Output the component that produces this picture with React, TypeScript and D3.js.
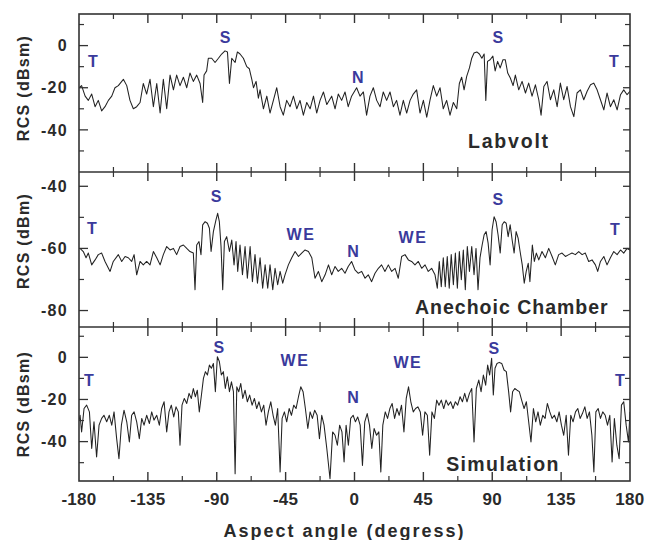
import React from "react";
import * as d3 from "d3";

// aspect angle (deg) vs RCS
const labvolt: [number, number][] = [
  [-180, -20], [-178.3, -19], [-176, -24], [-173.9, -26], [-171.7, -23], [-169.5, -29], [-167.4, -26], [-165.2, -31],
  [-163, -29], [-160.8, -26], [-158.6, -24], [-156.5, -20], [-154.3, -19], [-151, -16], [-148.8, -19], [-146.7, -26],
  [-144.5, -30], [-142.3, -29], [-140.1, -27], [-138, -18], [-135.8, -23], [-133.6, -16], [-131.4, -29], [-129.2, -18],
  [-127, -32], [-124.9, -16], [-122.7, -30], [-120.5, -14], [-118.3, -21], [-116.2, -14], [-114, -19], [-111.8, -15],
  [-109.6, -20], [-107.5, -13], [-105.3, -17], [-103.1, -14], [-100.9, -18], [-99.2, -27], [-98.3, -14], [-96.6, -12],
  [-95.5, -6], [-93.3, -6], [-91.1, -8], [-88.9, -6], [-86.8, -4], [-84.6, -2.5], [-83, -3], [-81.7, -18],
  [-80.2, -6], [-78, -8], [-76.5, -3], [-74.8, -4], [-72.6, -6], [-70.4, -10], [-68.7, -11], [-67.1, -16],
  [-66, -20], [-64.3, -17], [-62.8, -25], [-61.7, -21], [-59.5, -30], [-57.3, -24], [-55.2, -32], [-53, -26],
  [-50.8, -20], [-48.6, -29], [-46.5, -33], [-44.3, -26], [-42.1, -29], [-39.9, -24], [-37.7, -30], [-35.6, -26],
  [-33.4, -33], [-31.2, -27], [-29, -30], [-26.8, -24], [-24.7, -32], [-22.5, -26], [-20.3, -22], [-18.1, -28],
  [-14.9, -24], [-12.7, -30], [-10.6, -23], [-8.4, -26], [-6.2, -22], [-4.1, -29], [-1.9, -24], [1.4, -20],
  [3.6, -24], [5.8, -22], [7.9, -33], [10.1, -24], [12.3, -20], [14.5, -26], [16.7, -29], [18.8, -22],
  [21, -26], [23.2, -22], [25.4, -29], [27.5, -26], [29.7, -33], [31.9, -26], [34.1, -32], [36.3, -26],
  [38.4, -23], [40.6, -21], [42.8, -32], [45, -26], [47.2, -34], [49.3, -26], [51.5, -19], [53.7, -24],
  [55.9, -20], [58, -30], [60.2, -26], [62.4, -33], [64.6, -27], [66.8, -30], [68.5, -18], [70, -15],
  [71.6, -21], [73.3, -14.6], [75.1, -10.6], [76.6, -6], [78.1, -3.5], [79.9, -3], [81.6, -4], [83.2, -6],
  [84.7, -4], [85.8, -26], [86.9, -7.5], [88.6, -6.7], [90.4, -5], [91.9, -12], [93.5, -7.5], [95.2, -10.6],
  [97, -6.7], [98.5, -6.7], [100.1, -13], [101.8, -15.4], [103.6, -19], [105.1, -14], [107.3, -21], [109.5, -17],
  [111.7, -22.5], [113.8, -17.8], [116, -24], [118.2, -18.6], [120.4, -25.7], [121.9, -33], [123.7, -19.4], [125.8, -17],
  [128, -25.7], [130.2, -21], [132.4, -29], [134.5, -17.8], [136.7, -25.7], [138.9, -19.4], [141.1, -29], [143.3, -33.7],
  [145.4, -22.5], [147.6, -21], [149.8, -25.7], [152, -21.7], [154.2, -18.6], [156.3, -17.8], [158.5, -21], [160.7, -25.7],
  [162.9, -30.5], [165, -22.5], [167.2, -29], [169.4, -25.7], [171.6, -30.5], [173.8, -23.3], [175.9, -21], [178.1, -23.3],
  [180, -21.7],
];

const anechoic: [number, number][] = [
  [-180, -60], [-179.3, -60], [-177.2, -61], [-175.4, -63], [-173.9, -61.5], [-171.7, -65.3], [-169.5, -63.7], [-167.4, -62],
  [-165.2, -61.5], [-163, -64.2], [-159.7, -67.4], [-157.6, -64.2], [-154.3, -62], [-152.1, -64.2], [-149.9, -62.6], [-147.8, -63],
  [-145.6, -64.2], [-144, -62], [-142.3, -68.5], [-140.1, -64.2], [-138, -65.3], [-135.8, -64.2], [-133.6, -65.3], [-131.4, -61],
  [-129.2, -63], [-127, -65.3], [-124.9, -62], [-122.7, -59.4], [-120.5, -60.5], [-118.3, -60], [-116.2, -62], [-114, -59.4],
  [-111.8, -58.9], [-109.6, -60], [-107.5, -61], [-105.3, -61.5], [-104.2, -73.3], [-103.1, -58.9], [-101.6, -57.8], [-100.3, -62],
  [-99.2, -52.4], [-97.6, -51.4], [-96.1, -51.9], [-94.8, -53.5], [-93.7, -61], [-92.2, -54.6], [-90.5, -50.8], [-89.4, -48.7],
  [-88.3, -51.4], [-87.2, -59.4], [-86.1, -73.3], [-85, -57.8], [-83.5, -56.2], [-81.7, -61], [-80.2, -57.3], [-78.7, -65.3],
  [-77.4, -57.8], [-76.3, -67.4], [-74.8, -58.9], [-73.2, -68.5], [-71.5, -59.4], [-70, -69.6], [-68.2, -59.4], [-66.7, -70.7],
  [-65, -62], [-63.4, -71.2], [-61.7, -63], [-60, -72.8], [-58.4, -65.3], [-56.7, -72.8], [-55.2, -65.3], [-53.4, -73.3],
  [-51.9, -66.4], [-50.2, -71.7], [-48.6, -67.4], [-46.9, -71.2], [-45.4, -68.5], [-43.2, -65.3], [-41, -63], [-38.8, -61],
  [-36.6, -62.6], [-34.5, -61.5], [-32.3, -60.5], [-30.1, -61], [-27.9, -63], [-25.8, -69.6], [-23.6, -67.4], [-21.4, -70.7],
  [-19.2, -68.5], [-17, -65.3], [-14.9, -68.5], [-12.7, -65.8], [-10.6, -67.4], [-8.4, -66.4], [-6.2, -68], [-4.1, -65.8],
  [-1.9, -64.2], [0.3, -66.9], [2.5, -68], [4.7, -67.4], [6.9, -69.6], [9, -68.5], [11.2, -70.7], [13.4, -68],
  [15.6, -66.4], [17.7, -65.3], [19.9, -67.4], [22.1, -65.3], [24.3, -67.4], [26.5, -66.4], [28.6, -69.6], [30.8, -62.6],
  [33, -62], [35.2, -63.7], [37.3, -64.2], [39.5, -65.3], [41.7, -64.2], [43.9, -66.4], [46.1, -65.3], [48.2, -67.4],
  [50.4, -66.4], [52.6, -68.5], [54.1, -72.8], [55.4, -64.2], [56.7, -72.3], [58, -63], [59.3, -72.3], [60.6, -62.6],
  [61.9, -72.8], [63.2, -62], [64.6, -71.7], [65.9, -61.5], [67.2, -72.8], [68.5, -61], [69.8, -70.1], [71.1, -60.5],
  [72.4, -73.3], [73.7, -59.4], [75.1, -67.4], [76.6, -59.4], [78.1, -68.5], [79.4, -60], [80.7, -73.3], [82, -63],
  [83.4, -58.9], [84.7, -55.6], [86, -54.6], [87.3, -58.3], [88.6, -65.3], [89.9, -54], [91.2, -49.8], [92.5, -51.4],
  [93.8, -55.6], [95.2, -61.5], [96.5, -52.4], [97.8, -51.4], [99.1, -51.9], [100.4, -56.2], [101.7, -52.4], [103, -57.3],
  [104.3, -61.5], [105.6, -54.6], [106.9, -56.7], [108.2, -61], [109.6, -65.3], [110.9, -71.2], [112.2, -67.4], [113.5, -64.8],
  [114.6, -70.7], [116.2, -58.9], [117.5, -64.2], [118.8, -61.5], [120.4, -63.7], [122.5, -61], [124.7, -63], [126.9, -60],
  [129.1, -62.6], [131.2, -65.3], [133.4, -62], [135.6, -61.5], [137.8, -62.6], [140, -62], [142.1, -61.5], [144.3, -62],
  [146.5, -61], [148.7, -62], [150.8, -61.5], [153, -64.2], [155.2, -63.7], [157.4, -65.3], [158.9, -67.4], [160.7, -64.2],
  [162.9, -62.6], [165, -65.3], [167.2, -63], [169.4, -61], [171.6, -62], [173.8, -60.5], [175.9, -61.5], [178.1, -60],
  [180, -60.5],
];

const simulation: [number, number][] = [
  [-180, -30], [-179.3, -27.5], [-178.3, -35.4], [-176.7, -24.3], [-175, -22.7], [-173.2, -25.9], [-171.7, -43.3], [-170.2, -30.6],
  [-168.5, -47.3], [-166.9, -32.2], [-165.2, -29], [-163.7, -27.5], [-161.9, -30.6], [-160.2, -27.5], [-158.6, -32.2], [-157.1, -25.9],
  [-155.4, -38.6], [-153.9, -48.1], [-152.3, -32.2], [-150.6, -25.1], [-148.8, -30.6], [-147.1, -40.2], [-145.6, -27.5], [-144, -25.9],
  [-142.3, -30.6], [-140.6, -38.6], [-139, -29], [-137.5, -32.2], [-135.8, -27.5], [-134, -31.4], [-132.5, -25.9], [-131, -29.8],
  [-129.2, -27.5], [-127.5, -32.2], [-126, -24.3], [-124.4, -21.1], [-122.7, -35.4], [-121.2, -25.9], [-119.7, -22.7], [-118.1, -28.3],
  [-116.6, -23.5], [-115.1, -25.9], [-114, -41.7], [-112.7, -22.7], [-111.2, -19.5], [-109.6, -21.9], [-108.1, -17.1], [-106.6, -19.5],
  [-105.3, -14.8], [-104, -18.7], [-102.7, -15.6], [-101.4, -25.9], [-100, -17.9], [-98.7, -10], [-97.4, -6.8], [-96.1, -8.4],
  [-94.8, -3.7], [-93.5, -5.2], [-92.2, -2.9], [-90.9, -16.3], [-89.6, 0.3], [-88.3, -2], [-87, -8.4], [-85.7, -6.8],
  [-84.4, -14.8], [-83.1, -9.2], [-81.7, -16.3], [-80.4, -11.6], [-79.1, -16.3], [-78, -55.2], [-76.9, -14], [-75.6, -16.3],
  [-74.3, -12.4], [-73, -19.5], [-71.5, -15.6], [-70, -21.1], [-68.5, -17.9], [-66.9, -22.7], [-65.4, -19.5], [-63.9, -24.3],
  [-62.4, -21.1], [-60.8, -25.9], [-59.3, -22.7], [-57.8, -32.2], [-56.3, -25.9], [-54.7, -21.1], [-53.2, -27.5], [-51.7, -32.2],
  [-50.2, -24.3], [-48.6, -54.4], [-47.3, -29], [-45.8, -25.9], [-44.3, -30.6], [-42.7, -24.3], [-41.2, -27.5], [-39.7, -22.7],
  [-38.2, -24.3], [-36.6, -18.7], [-35.1, -14], [-33.6, -16.3], [-32.1, -24.3], [-30.5, -33.8], [-29, -25.9], [-27.5, -29],
  [-26, -25.1], [-24.4, -27.5], [-22.9, -38.6], [-21.4, -27.5], [-19.9, -32.2], [-18.1, -43.3], [-16, -57.6], [-14.3, -35.4],
  [-12.7, -37], [-11.2, -41.7], [-9.7, -32.2], [-8.2, -35.4], [-6.8, -49.7], [-5.5, -32.2], [-4, -41.7], [-2.5, -29],
  [-0.9, -27.5], [0.6, -30.6], [2.1, -28.3], [3.7, -32.2], [5.2, -51.3], [6.7, -30.6], [8.3, -26.7], [9.8, -32.2],
  [11.3, -43.3], [12.8, -33.8], [14.4, -37], [15.9, -35.4], [17.2, -54.4], [18.5, -32.2], [20.1, -25.9], [21.6, -29],
  [23.1, -24.3], [24.6, -21.9], [26.2, -29], [27.7, -24.3], [29.2, -27.5], [30.7, -22.7], [32.3, -35.4], [33.8, -19.5],
  [35.3, -14], [36.8, -21.1], [38.4, -25.9], [39.9, -24.3], [41.4, -23.5], [43, -25.9], [44.5, -37], [46, -25.9],
  [47.6, -27.5], [49.1, -46.5], [50.6, -25.9], [52.2, -29], [53.7, -20.3], [55.2, -22.7], [56.7, -20.3], [58.3, -24.3],
  [59.8, -20.3], [61.3, -22.7], [62.8, -21.1], [64.4, -24.3], [65.9, -21.1], [67.4, -22.7], [69, -18.7], [70.5, -21.1],
  [72, -17.1], [73.5, -21.1], [75.1, -17.1], [76.6, -14.8], [78.1, -40.2], [79.6, -14.8], [81.2, -10.8], [82.7, -16.3],
  [84.2, -8.4], [85.7, -13.2], [87, -3.7], [88.3, -8.4], [89.6, -0.5], [90.7, -17.9], [91.8, -5.2], [93.1, -2.9],
  [94.6, -2.4], [96.2, -2.9], [97.7, -6], [99.2, -6.8], [100.7, -16.3], [102, -25.9], [103.3, -16.3], [104.7, -14.8],
  [106.2, -15.6], [107.7, -16.3], [109.2, -20.3], [110.8, -24.3], [112.3, -21.1], [113.8, -30.6], [115.3, -40.2], [116.9, -24.3],
  [118.4, -30.6], [119.9, -25.9], [121.4, -32.2], [123, -27.5], [124.5, -29], [126, -21.9], [127.6, -25.9], [129.1, -29],
  [130.6, -27.5], [132.2, -30.6], [133.7, -25.9], [135.2, -32.2], [136.7, -37], [138.3, -27.5], [139.8, -46.5], [141.3, -27.5],
  [142.8, -30.6], [144.4, -25.9], [145.9, -24.3], [147.4, -29], [148.9, -26.7], [150.5, -23.5], [152, -29], [153.5, -25.9],
  [155.1, -37], [156.4, -54.4], [157.7, -25.9], [159.2, -24.3], [160.7, -29], [162.2, -25.9], [163.8, -27.5], [165.3, -32.2],
  [166.8, -27.5], [168.3, -49.7], [169.8, -29], [171.4, -41.7], [172.9, -48.1], [174.4, -22.7], [175.9, -21.1], [177.5, -32.2],
  [179, -40.2], [180, -25.9],
];

const angleTicks = [-180, -135, -90, -45, 0, 45, 90, 135, 180];
const angleMinor = [-157.5, -112.5, -67.5, -22.5, 22.5, 67.5, 112.5, 157.5];

const panels = [
  {
    key: "labvolt", data: labvolt, domain: [-60, 15], top: 14, bottom: 172,
    yTicks: [0, -20, -40], yMinor: [10, -10, -30, -50],
    yTitle: "RCS (dBsm)", yTitleY: 88, title: "Labvolt", titleAt: [100.9, -45.2], titleSpacing: 1.8,
    notes: [["T", -170.9, -7.6], ["S", -84.6, 3.8], ["N", 2.2, -14.8], ["S", 93.7, 3.8], ["T", 169.4, -7.6]],
  },
  {
    key: "anechoic", data: anechoic, domain: [-85.3, -35.4], top: 172, bottom: 327,
    yTicks: [-40, -60, -80], yMinor: [-50, -70],
    yTitle: "RCS (dBm)", yTitleY: 241, title: "Anechoic Chamber", titleAt: [102.8, -78.9], titleSpacing: 1,
    notes: [["T", -171.5, -53.5], ["S", -90.5, -43.1], ["WE", -35, -55.4], ["N", -1, -60.9],
      ["WE", 38.2, -56.4], ["S", 93.7, -44.1], ["T", 170.1, -53.8]],
  },
  {
    key: "simulation", data: simulation, domain: [-58.7, 14.4], top: 327, bottom: 481,
    yTicks: [0, -20, -40], yMinor: [10, -10, -30, -50],
    yTitle: "RCS (dBsm)", yTitleY: 404, title: "Simulation", titleAt: [97, -50.8], titleSpacing: 1.4,
    notes: [["T", -173.5, -10.8], ["S", -88.6, 4.9], ["WE", -38.9, -1.3], ["N", -1, -18.9],
      ["WE", 34.9, -2.2], ["S", 91.1, 4.4], ["T", 173.4, -10.8]],
  },
];

const FONT = "'Liberation Sans', Arial, sans-serif";
const INK = "#2a2a2a";
const BLUE = "#3a3a9c";

export default function App() {
  const left = 79, right = 630;
  const x = d3.scaleLinear().domain([-180, 180]).range([left, right]);

  return (
    <svg width={647} height={540} style={{ position: "absolute", left: 0, top: 0, background: "#fff" }}
      fontFamily={FONT} fontWeight="bold">
      <defs>
        {panels.map(p => (
          <clipPath id={"clip-" + p.key} key={p.key}>
            <rect x={left} y={p.top} width={right - left} height={p.bottom - p.top} />
          </clipPath>
        ))}
      </defs>

      {panels.map(p => {
        const y = d3.scaleLinear().domain(p.domain).range([p.bottom, p.top]);
        const line = d3.line<[number, number]>().x(d => x(d[0])).y(d => y(d[1]));
        return (
          <g key={p.key}>
            <path d={line(p.data) || ""} fill="none" stroke="#222" strokeWidth={1.05}
              strokeLinejoin="round" clipPath={`url(#clip-${p.key})`} />

            {/* inward ticks on all four sides */}
            {angleTicks.slice(1, -1).map(a => (
              <g key={"xt" + a} stroke="#333" strokeWidth={1.4}>
                <line x1={x(a)} x2={x(a)} y1={p.top} y2={p.top + 9} />
                <line x1={x(a)} x2={x(a)} y1={p.bottom} y2={p.bottom - 9} />
              </g>
            ))}
            {angleMinor.map(a => (
              <g key={"xm" + a} stroke="#333" strokeWidth={1.2}>
                <line x1={x(a)} x2={x(a)} y1={p.top} y2={p.top + 5} />
                <line x1={x(a)} x2={x(a)} y1={p.bottom} y2={p.bottom - 5} />
              </g>
            ))}
            {p.yTicks.map(v => (
              <g key={"yt" + v}>
                <line x1={left} x2={left + 9} y1={y(v)} y2={y(v)} stroke="#333" strokeWidth={1.3} />
                <line x1={right} x2={right - 7} y1={y(v)} y2={y(v)} stroke="#333" strokeWidth={1.3} />
                <text x={68} y={y(v)} dy="0.36em" textAnchor="end" fontSize={16} letterSpacing={1.3} fill={INK}>{v}</text>
              </g>
            ))}
            {p.yMinor.map(v => (
              <g key={"ym" + v} stroke="#333" strokeWidth={1.2}>
                <line x1={left} x2={left + 5} y1={y(v)} y2={y(v)} />
                <line x1={right} x2={right - 5} y1={y(v)} y2={y(v)} />
              </g>
            ))}

            <text transform={`translate(23,${p.yTitleY}) rotate(-90)`} textAnchor="middle" dy="0.36em"
              fontSize={16} letterSpacing={1.3} fill={INK}>{p.yTitle}</text>

            {p.notes.map(([t, a, v], i) => (
              <text key={"n" + i} x={x(a as number)} y={y(v as number)} dy="0.36em" textAnchor="middle"
                fontSize={16} letterSpacing={t === "WE" ? 1.5 : 0} fill={BLUE}>{t}</text>
            ))}

            <text x={x(p.titleAt[0])} y={y(p.titleAt[1])} dy="0.36em" textAnchor="middle"
              fontSize={19.5} letterSpacing={p.titleSpacing} fill={INK}>{p.title}</text>
          </g>
        );
      })}

      {/* frame */}
      <rect x={left} y={14} width={right - left} height={481 - 14} fill="none" stroke="#333" strokeWidth={1.6} />
      <line x1={left} x2={right} y1={172} y2={172} stroke="#333" strokeWidth={1.6} />
      <line x1={left} x2={right} y1={327} y2={327} stroke="#333" strokeWidth={1.6} />

      {angleTicks.map(a => (
        <text key={"xl" + a} x={x(a)} y={505} textAnchor="middle" fontSize={17} letterSpacing={0.3} fill={INK}>{a}</text>
      ))}
      <text x={(left + right) / 2 - 10} y={537} textAnchor="middle" fontSize={18} letterSpacing={2} fill={INK}>
        Aspect angle (degress)
      </text>
    </svg>
  );
}
